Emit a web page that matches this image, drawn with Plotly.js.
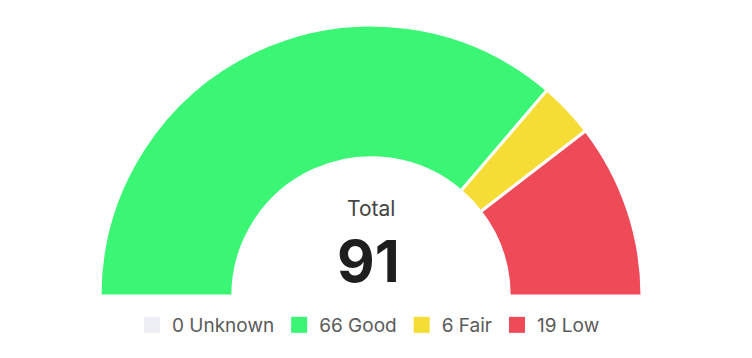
<!DOCTYPE html>
<html>
<head>
<meta charset="utf-8">
<script src="https://cdn.plot.ly/plotly-3.0.1.min.js"></script>
<style>
html, body { margin:0; padding:0; width:752px; height:358px; overflow:hidden; background:#fff; }
#chart { width:752px; height:600px; }
</style>
</head>
<body>
<div id="chart"></div>
<script>
const categories = ["Unknown", "Good", "Fair", "Low"];
const values = [0, 66, 6, 19];
const colors = ["#EEEEF5", "#3BF574", "#F5DD35", "#EE4A58"];
const totalLabel = "Total";

const total = values.reduce((a, b) => a + b, 0);
const H = 600;
const cx = 371, cy = 296, R = 271;

const pie = {
  type: "pie",
  values: values.concat([total]),
  labels: categories.concat(["_hidden"]),
  sort: false,
  direction: "clockwise",
  rotation: -90,
  hole: 0.51,
  textinfo: "none",
  hoverinfo: "none",
  showlegend: false,
  marker: {
    colors: colors.concat(["rgba(0,0,0,0)"]),
    line: { color: "#ffffff", width: [0, 3, 3, 3, 0] }
  },
  domain: {
    x: [(cx - R) / 752, (cx + R) / 752],
    y: [1 - (cy + R) / H, 1 - (cy - R) / H]
  }
};

const legendTraces = categories.map((c, i) => ({
  type: "scatter",
  mode: "markers",
  x: [null], y: [null],
  name: values[i] + " " + c,
  marker: { symbol: "square", size: 16, color: colors[i] },
  hoverinfo: "none",
  showlegend: true
}));

const layout = {
  width: 752, height: H,
  margin: { l: 0, r: 0, t: 0, b: 0 },
  paper_bgcolor: "#fff", plot_bgcolor: "#fff",
  font: { family: "Inter, 'Noto Sans', sans-serif", color: "#555" },
  xaxis: { visible: false }, yaxis: { visible: false },
  showlegend: true,
  legend: {
    orientation: "h",
    x: 0.49, xanchor: "center",
    y: 1 - 325 / H, yanchor: "middle",
    font: { size: 19, color: "#5a5a5a" },
    itemsizing: "trace",
    traceorder: "normal",
    bgcolor: "rgba(0,0,0,0)"
  },
  annotations: [
    { text: totalLabel, x: cx / 752, y: 1 - 208 / H, xref: "paper", yref: "paper",
      showarrow: false, font: { size: 21, color: "#444" } },
    { text: "<b>" + total + "</b>", x: (cx - 3) / 752, y: 1 - 261 / H, xref: "paper", yref: "paper",
      showarrow: false, font: { size: 58, color: "#1e1e1e" } }
  ]
};

Plotly.newPlot("chart", [pie].concat(legendTraces), layout, { displayModeBar: false, staticPlot: true });
</script>
</body>
</html>
